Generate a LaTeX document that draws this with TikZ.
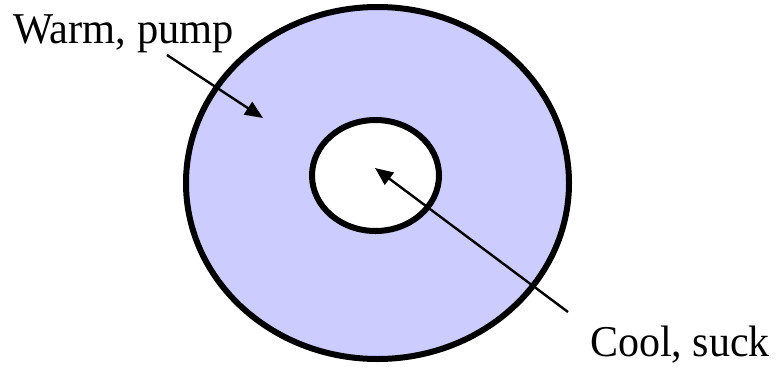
\documentclass[tikz,border=0pt]{standalone}
\usepackage{fontspec}
\setmainfont{Liberation Serif}
\usetikzlibrary{arrows.meta,shapes.geometric}
\definecolor{lav}{RGB}{204,204,255}
\begin{document}
\begin{tikzpicture}[x=1pt,y=-1pt,
  ring/.style={ellipse,draw=black,line width=6pt,inner sep=0pt},
  lbl/.style={font=\fontsize{44}{50}\selectfont,inner sep=0pt},
  pointer/.style={line width=2.4pt,-{Triangle[length=18pt,width=15pt]}}]
\useasboundingbox (0,0) rectangle (778,367);
\node[ring,fill=lav,minimum width=383pt,minimum height=352pt] (outer) at (377.5,183) {};
\node[ring,fill=white,minimum width=127pt,minimum height=111pt] (inner) at (375.5,175.5) {};
\node[lbl,anchor=base west] (warm) at (13,43) {\scalebox{0.965}[1]{Warm, pump}};
\node[lbl,anchor=base west] (cool) at (590,356) {\scalebox{0.955}[1]{Cool, suck}};
\coordinate (wtail) at (167,55);
\coordinate (wtip) at (263,118);
\coordinate (ctail) at (568,312);
\coordinate (ctip) at (375,168);
\draw[pointer] (wtail) -- (wtip);
\draw[pointer] (ctail) -- (ctip);
\end{tikzpicture}
\end{document}
